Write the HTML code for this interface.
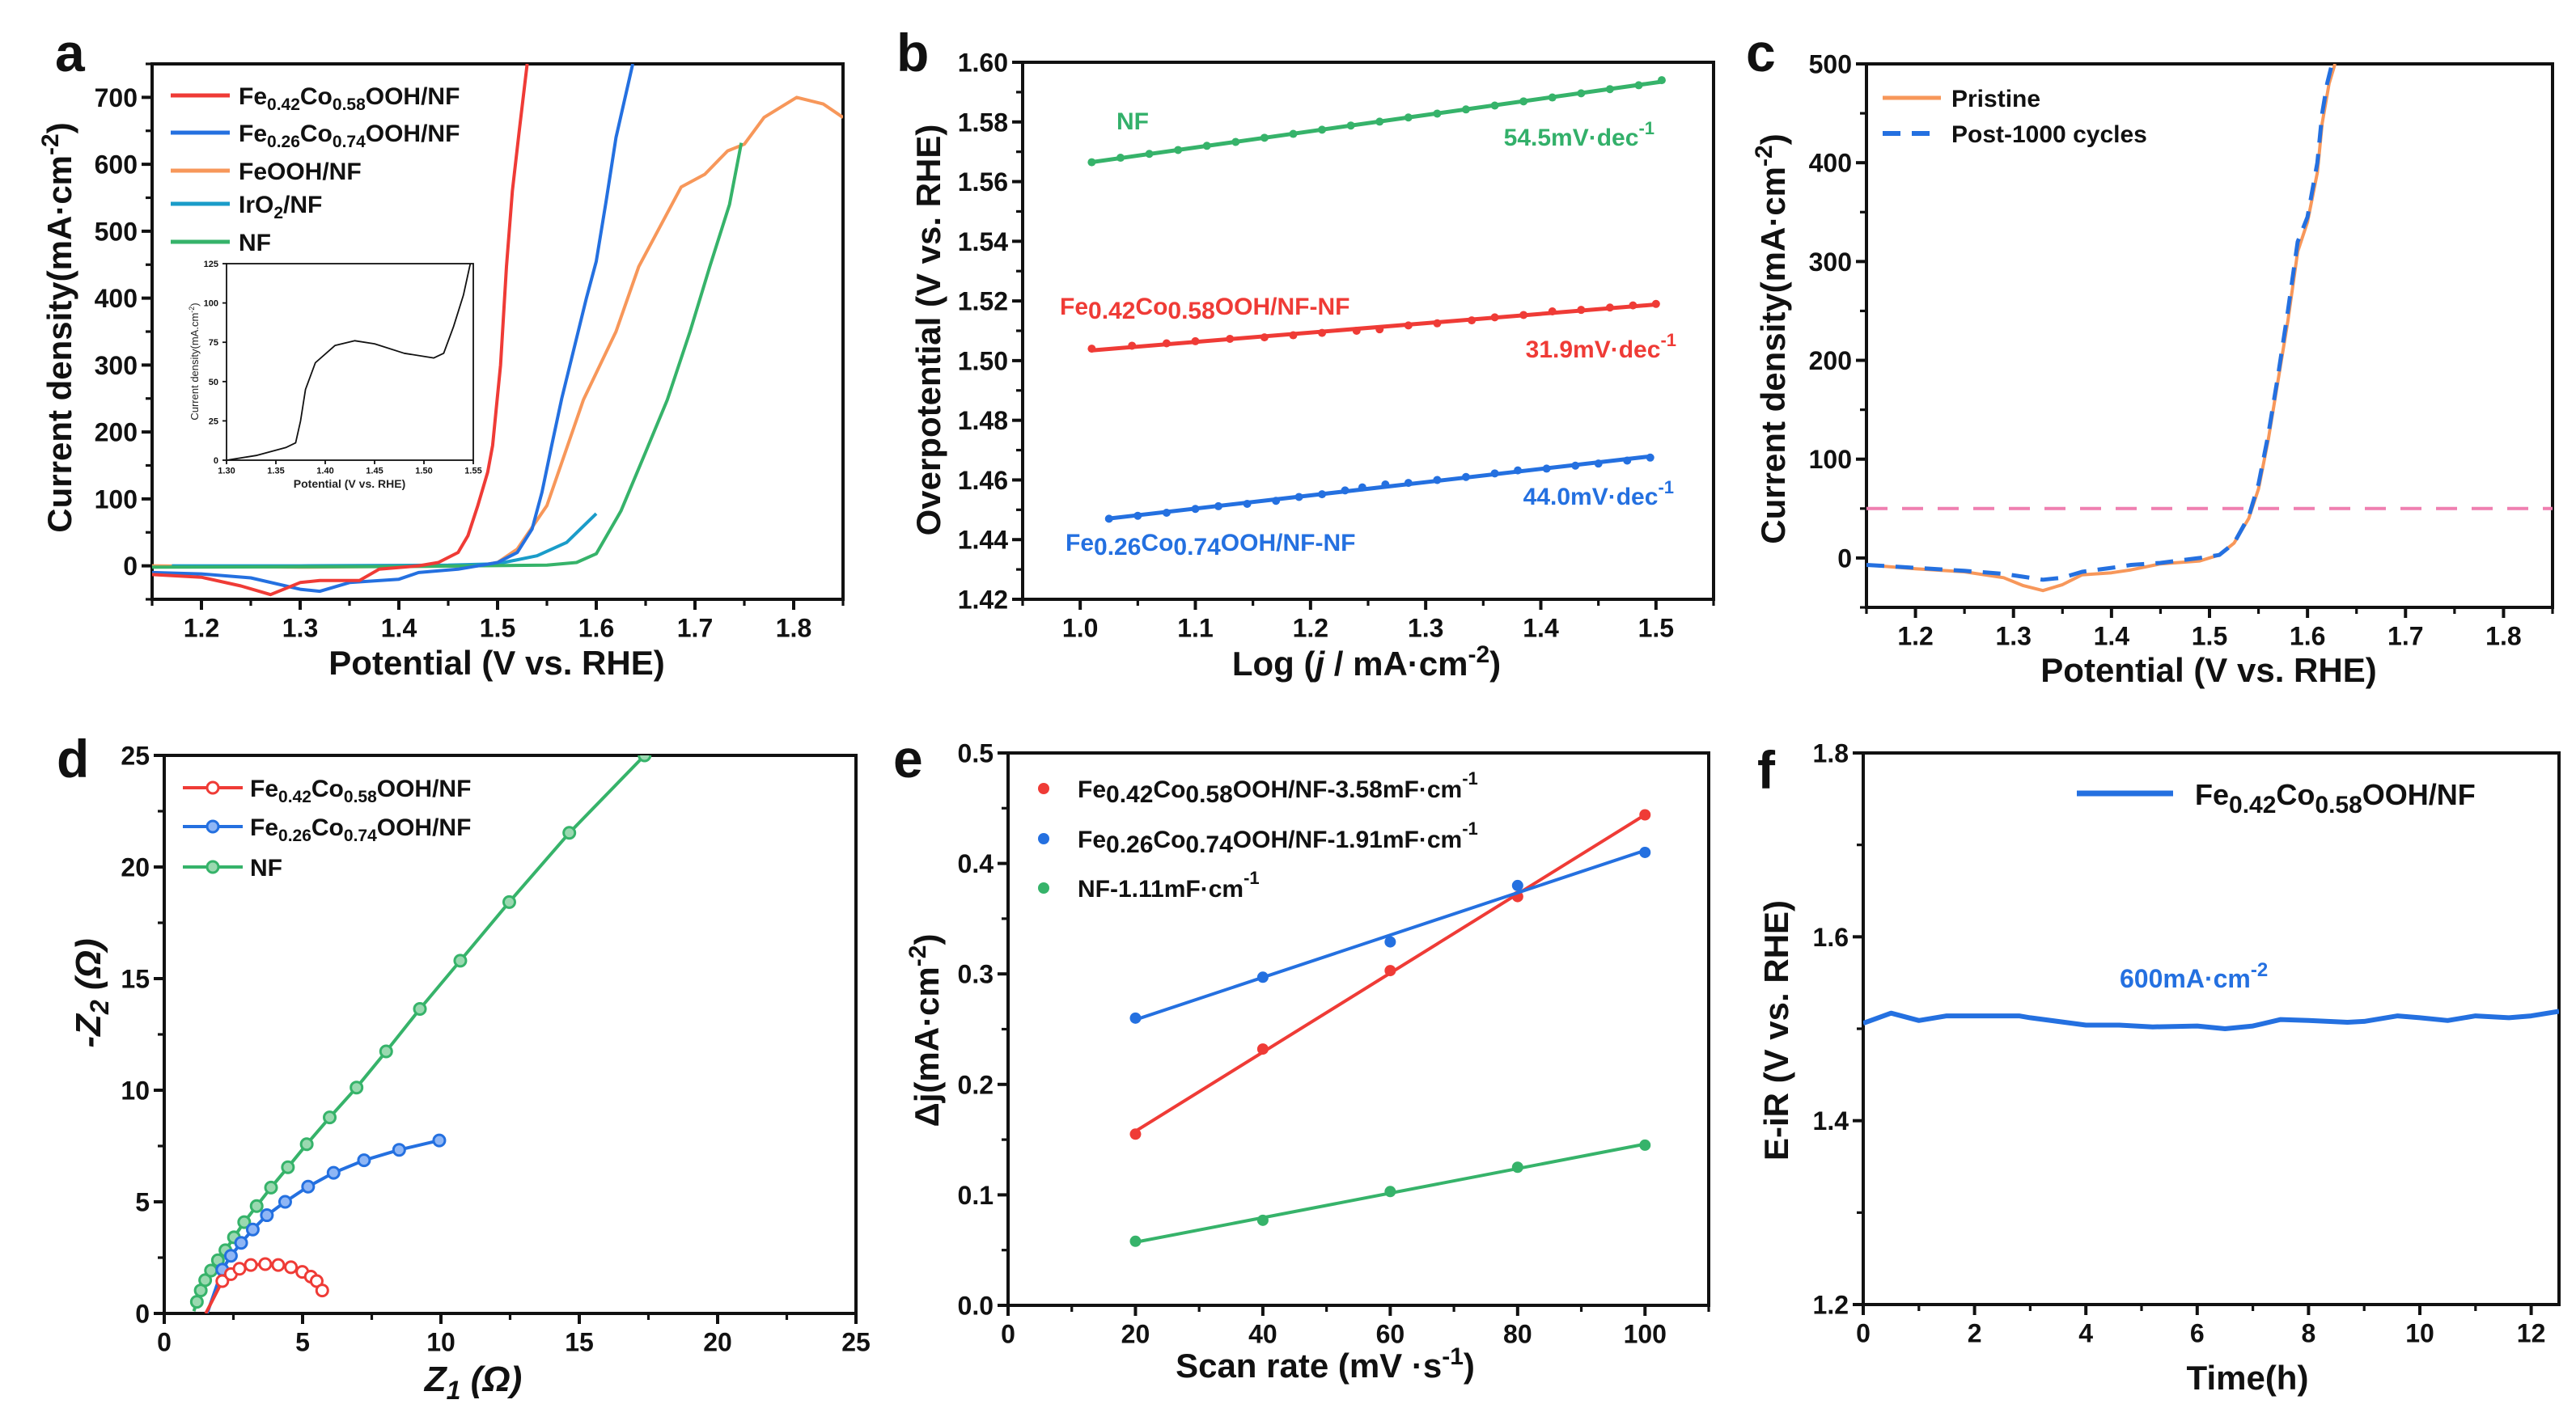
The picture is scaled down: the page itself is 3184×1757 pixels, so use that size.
<!DOCTYPE html>
<html><head><meta charset="utf-8">
<style>
html,body{margin:0;padding:0;background:#fff;}
svg{display:block;font-family:"Liberation Sans",Arial,sans-serif;}
.t{font-weight:bold;fill:#111;}
</style></head>
<body>
<svg id="fig" width="3184" height="1757" viewBox="0 0 3184 1757" xmlns="http://www.w3.org/2000/svg">
<defs>
<clipPath id="clipA"><rect x="188" y="79" width="854" height="662"/></clipPath>
<clipPath id="clipB"><rect x="1264" y="77" width="854" height="664"/></clipPath>
<clipPath id="clipC"><rect x="2307" y="79" width="848" height="672"/></clipPath>
<clipPath id="clipD"><rect x="203" y="934" width="855" height="690"/></clipPath>
<clipPath id="clipE"><rect x="1246" y="931" width="866" height="683"/></clipPath>
<clipPath id="clipF"><rect x="2303" y="931" width="860" height="682"/></clipPath>
<clipPath id="clipI"><rect x="280" y="326" width="305" height="243"/></clipPath>
</defs>
<rect width="3184" height="1757" fill="#fff"/>

<text class="t" x="68" y="88" font-size="66">a</text>
<text class="t" x="1108" y="88" font-size="66">b</text>
<text class="t" x="2158" y="88" font-size="66">c</text>
<text class="t" x="70" y="961" font-size="66">d</text>
<text class="t" x="1104" y="961" font-size="66">e</text>
<text class="t" x="2172" y="975" font-size="66">f</text>

<text class="t" x="614" y="834" font-size="42" text-anchor="middle">Potential (V vs. RHE)</text>
<text class="t" transform="translate(88,405) rotate(-90)" font-size="42" text-anchor="middle">Current density(mA·cm<tspan dy="-16" font-size="30">-2</tspan><tspan dy="16">)</tspan></text>
<text class="t" x="1689" y="835" font-size="42" text-anchor="middle">Log (<tspan font-style="italic">j</tspan> / mA·cm<tspan dy="-16" font-size="30">-2</tspan><tspan dy="16">)</tspan></text>
<text class="t" transform="translate(1162,408) rotate(-90)" font-size="42" text-anchor="middle">Overpotential (V vs. RHE)</text>
<text class="t" x="2730" y="843" font-size="42" text-anchor="middle">Potential (V vs. RHE)</text>
<text class="t" transform="translate(2206,419) rotate(-90)" font-size="42" text-anchor="middle">Current density(mA·cm<tspan dy="-16" font-size="30">-2</tspan><tspan dy="16">)</tspan></text>
<text class="t" x="585" y="1720" font-size="44" text-anchor="middle" font-style="italic">Z<tspan dy="10" font-size="32">1</tspan><tspan dy="-10"> (Ω)</tspan></text>
<text class="t" transform="translate(124,1228) rotate(-90)" font-size="44" text-anchor="middle" font-style="italic">-Z<tspan dy="10" font-size="32">2</tspan><tspan dy="-10"> (Ω)</tspan></text>
<text class="t" x="1638" y="1703" font-size="42" text-anchor="middle">Scan rate (mV ·s<tspan dy="-16" font-size="30">-1</tspan><tspan dy="16">)</tspan></text>
<text class="t" transform="translate(1160,1274) rotate(-90)" font-size="42" text-anchor="middle">Δj(mA·cm<tspan dy="-16" font-size="30">-2</tspan><tspan dy="16">)</tspan></text>
<text class="t" x="2778" y="1718" font-size="42" text-anchor="middle">Time(h)</text>
<text class="t" transform="translate(2210,1274) rotate(-90)" font-size="42" text-anchor="middle">E-iR (V vs. RHE)</text>

<g font-size="30" class="t">
<line x1="211" y1="118" x2="284" y2="118" stroke="#ef3b36" stroke-width="5"/>
<text class="t" x="295" y="129">Fe<tspan dy="7" font-size="21">0.42</tspan><tspan dy="-7">Co</tspan><tspan dy="7" font-size="21">0.58</tspan><tspan dy="-7">OOH/NF</tspan></text>
<line x1="211" y1="164" x2="284" y2="164" stroke="#2470e0" stroke-width="5"/>
<text class="t" x="295" y="175">Fe<tspan dy="7" font-size="21">0.26</tspan><tspan dy="-7">Co</tspan><tspan dy="7" font-size="21">0.74</tspan><tspan dy="-7">OOH/NF</tspan></text>
<line x1="211" y1="211" x2="284" y2="211" stroke="#f7975a" stroke-width="5"/>
<text class="t" x="295" y="222">FeOOH/NF</text>
<line x1="211" y1="252" x2="284" y2="252" stroke="#1a9cc9" stroke-width="5"/>
<text class="t" x="295" y="263">IrO<tspan dy="7" font-size="21">2</tspan><tspan dy="-7">/NF</tspan></text>
<line x1="211" y1="299" x2="284" y2="299" stroke="#36b36a" stroke-width="5"/>
<text class="t" x="295" y="310">NF</text>
</g>
<g>
<line x1="288" y1="342" x2="312" y2="342" stroke="#111" stroke-width="1.5"/>
<text x="318" y="346" font-size="11" fill="#222">Fe<tspan dy="3" font-size="8">0.42</tspan><tspan dy="-3">Co</tspan><tspan dy="3" font-size="8">0.58</tspan><tspan dy="-3">OOH/NF</tspan></text>
</g>
<text x="432" y="603" font-size="14" font-weight="bold" fill="#222" text-anchor="middle">Potential (V vs. RHE)</text>
<text transform="translate(245,447) rotate(-90)" font-size="13" fill="#222" text-anchor="middle">Current density(mA.cm<tspan dy="-5" font-size="9">-2</tspan><tspan dy="5">)</tspan></text>

<g font-size="30" font-weight="bold">
<text x="1380" y="160" fill="#33b06a">NF</text>
<text x="2045" y="180" fill="#33b06a" text-anchor="end">54.5mV·dec<tspan dy="-14" font-size="22">-1</tspan></text>
<text x="1310" y="389" fill="#ef3b36">Fe<tspan dy="5">0.42</tspan><tspan dy="-5">Co</tspan><tspan dy="5">0.58</tspan><tspan dy="-5">OOH/NF-NF</tspan></text>
<text x="2072" y="442" fill="#ef3b36" text-anchor="end">31.9mV·dec<tspan dy="-14" font-size="22">-1</tspan></text>
<text x="2069" y="624" fill="#2470e0" text-anchor="end">44.0mV·dec<tspan dy="-14" font-size="22">-1</tspan></text>
<text x="1317" y="681" fill="#2470e0">Fe<tspan dy="5">0.26</tspan><tspan dy="-5">Co</tspan><tspan dy="5">0.74</tspan><tspan dy="-5">OOH/NF-NF</tspan></text>
</g>

<g>
<line x1="2327" y1="121" x2="2399" y2="121" stroke="#f7975a" stroke-width="5"/>
<text class="t" x="2412" y="132" font-size="30">Pristine</text>
<line x1="2327" y1="165" x2="2399" y2="165" stroke="#2470e0" stroke-width="6" stroke-dasharray="22 14"/>
<text class="t" x="2412" y="176" font-size="30">Post-1000 cycles</text>
</g>

<g font-size="30">
<line x1="226" y1="974" x2="300" y2="974" stroke="#ef3b36" stroke-width="4"/>
<circle cx="263" cy="974" r="7" fill="#fff" stroke="#ef3b36" stroke-width="3"/>
<text class="t" x="309" y="985">Fe<tspan dy="7" font-size="21">0.42</tspan><tspan dy="-7">Co</tspan><tspan dy="7" font-size="21">0.58</tspan><tspan dy="-7">OOH/NF</tspan></text>
<line x1="226" y1="1022" x2="300" y2="1022" stroke="#2470e0" stroke-width="4"/>
<circle cx="263" cy="1022" r="7" fill="#8fb6f5" stroke="#2470e0" stroke-width="3"/>
<text class="t" x="309" y="1033">Fe<tspan dy="7" font-size="21">0.26</tspan><tspan dy="-7">Co</tspan><tspan dy="7" font-size="21">0.74</tspan><tspan dy="-7">OOH/NF</tspan></text>
<line x1="226" y1="1072" x2="300" y2="1072" stroke="#36b36a" stroke-width="4"/>
<circle cx="263" cy="1072" r="7" fill="#9ad9b0" stroke="#36b36a" stroke-width="3"/>
<text class="t" x="309" y="1083">NF</text>
</g>

<g font-size="30">
<circle cx="1290" cy="975" r="7" fill="#ef3b36"/>
<text class="t" x="1332" y="986">Fe<tspan dy="6">0.42</tspan><tspan dy="-6">Co</tspan><tspan dy="6">0.58</tspan><tspan dy="-6">OOH/NF-3.58mF·cm</tspan><tspan dy="-16" font-size="22">-1</tspan></text>
<circle cx="1290" cy="1037" r="7" fill="#2470e0"/>
<text class="t" x="1332" y="1048">Fe<tspan dy="6">0.26</tspan><tspan dy="-6">Co</tspan><tspan dy="6">0.74</tspan><tspan dy="-6">OOH/NF-1.91mF·cm</tspan><tspan dy="-16" font-size="22">-1</tspan></text>
<circle cx="1290" cy="1098" r="7" fill="#36b36a"/>
<text class="t" x="1332" y="1109">NF-1.11mF·cm<tspan dy="-16" font-size="22">-1</tspan></text>
</g>

<g>
<line x1="2567" y1="981" x2="2686" y2="981" stroke="#2470e0" stroke-width="7"/>
<text class="t" x="2713" y="995" font-size="36">Fe<tspan dy="10" font-size="30">0.42</tspan><tspan dy="-10">Co</tspan><tspan dy="10" font-size="30">0.58</tspan><tspan dy="-10">OOH/NF</tspan></text>
</g>
<text x="2620" y="1221" font-size="32" font-weight="bold" fill="#2470e0">600mA·cm<tspan dy="-14" font-size="24">-2</tspan></text>
</svg>

<script>
// ---------- DATA ----------
const aRedX = [1.15,1.2,1.24,1.27,1.3,1.32,1.36,1.38,1.42,1.44,1.46,1.47,1.48,1.49,1.495,1.503,1.509,1.515,1.522,1.53];
const aRedY = [-13,-17,-30,-43,-25,-22,-22,-5,0,5,20,45,90,140,180,300,447,560,650,750];
const aBlueX = [1.15,1.2,1.25,1.3,1.32,1.35,1.4,1.42,1.46,1.5,1.52,1.535,1.545,1.555,1.565,1.58,1.59,1.6,1.61,1.62,1.637];
const aBlueY = [-10,-12,-18,-35,-38,-25,-20,-10,-5,5,20,55,110,181,250,340,400,455,545,640,750];
const aOrangeX = [1.15,1.3,1.48,1.5,1.52,1.55,1.587,1.62,1.643,1.686,1.71,1.733,1.75,1.77,1.803,1.83,1.85];
const aOrangeY = [0,-2,0,5,25,90,248,350,447,566,585,620,630,670,700,690,670];
const aTealX = [1.17,1.3,1.45,1.5,1.54,1.57,1.6];
const aTealY = [0,0,1,3,15,35,78];
const aGreenX = [1.15,1.4,1.55,1.58,1.6,1.625,1.65,1.672,1.695,1.715,1.735,1.747];
const aGreenY = [-2,-1,1,5,18,82,170,248,350,447,540,632];
const insetX = [1.30,1.33,1.36,1.37,1.375,1.38,1.39,1.41,1.43,1.45,1.48,1.51,1.52,1.53,1.54,1.547];
const insetY = [0,3,8,11,25,45,62,73,76,74,68,65,68,85,105,125];
const bLogJ = [1.01,1.035,1.06,1.085,1.11,1.135,1.16,1.185,1.21,1.235,1.26,1.285,1.31,1.335,1.36,1.385,1.41,1.435,1.46,1.485,1.505];
const bNF = [1.5665,1.568,1.5693,1.5706,1.572,1.5733,1.5747,1.576,1.5774,1.5788,1.5801,1.5815,1.5828,1.5842,1.5855,1.5869,1.5882,1.5896,1.591,1.5923,1.594];
const bLogJRed = [1.01,1.045,1.075,1.1,1.13,1.16,1.185,1.21,1.24,1.26,1.285,1.31,1.34,1.36,1.385,1.41,1.435,1.46,1.48,1.5];
const bRed = [1.504,1.505,1.5058,1.5065,1.5073,1.5078,1.5085,1.5093,1.51,1.5105,1.5118,1.5125,1.5135,1.5145,1.5153,1.5165,1.517,1.5178,1.5185,1.519];
const bLogJBlue = [1.025,1.05,1.075,1.1,1.12,1.145,1.17,1.19,1.21,1.23,1.245,1.265,1.285,1.31,1.335,1.36,1.38,1.405,1.43,1.45,1.475,1.495];
const bBlue = [1.447,1.448,1.449,1.4503,1.4512,1.452,1.453,1.4543,1.4552,1.4565,1.4575,1.4585,1.459,1.46,1.461,1.4622,1.4632,1.4638,1.4648,1.4655,1.4665,1.4675];
const cPrisX = [1.15,1.2,1.25,1.29,1.31,1.33,1.35,1.37,1.4,1.42,1.45,1.49,1.51,1.525,1.54,1.55,1.56,1.57,1.58,1.59,1.6,1.61,1.615,1.622,1.628];
const cPrisY = [-7,-11,-14,-20,-28,-33,-27,-17,-15,-12,-6,-3,3,15,40,70,120,180,240,310,340,390,440,480,500];
const cPostX = [1.15,1.2,1.25,1.29,1.31,1.33,1.35,1.37,1.4,1.42,1.45,1.49,1.51,1.525,1.54,1.55,1.56,1.57,1.58,1.59,1.6,1.61,1.615,1.62,1.625];
const cPostY = [-7,-10,-13,-16,-19,-22,-20,-14,-10,-7,-5,0,3,15,42,75,125,185,250,320,345,400,450,480,500];
const cRef = [50];
const dRedX = [1.5,2.1,2.41,2.72,3.13,3.65,4.12,4.58,4.99,5.3,5.51,5.71];
const dRedY = [0,1.45,1.76,2.0,2.17,2.21,2.17,2.07,1.86,1.65,1.45,1.03];
const dBlueX = [1.55,2.1,2.41,2.78,3.2,3.71,4.37,5.2,6.12,7.22,8.49,9.94];
const dBlueY = [0,1.96,2.58,3.16,3.76,4.4,5.0,5.68,6.3,6.86,7.33,7.75];
const dGreenX = [1.07,1.18,1.32,1.48,1.69,1.94,2.21,2.52,2.89,3.34,3.86,4.47,5.15,5.98,6.95,8.02,9.24,10.7,12.47,14.64,17.36,18.5];
const dGreenY = [0.1,0.52,1.03,1.49,1.92,2.38,2.83,3.41,4.09,4.81,5.64,6.55,7.58,8.78,10.12,11.74,13.64,15.8,18.43,21.53,25.0,26.5];
const eRate = [20,40,60,80,100];
const eRed = [0.155,0.232,0.303,0.37,0.444];
const eBlue = [0.26,0.297,0.329,0.38,0.41];
const eGreen = [0.058,0.077,0.103,0.125,0.145];
const fTime = [0,0.5,1,1.5,2.8,3,4,4.6,5.2,6,6.5,7,7.5,8,8.7,9,9.6,10,10.5,11,11.6,12,12.5];
const fE = [1.506,1.517,1.509,1.514,1.514,1.512,1.504,1.504,1.502,1.503,1.5,1.503,1.51,1.509,1.507,1.508,1.514,1.512,1.509,1.514,1.512,1.514,1.519];

// ---------- HELPERS ----------
const NS = "http://www.w3.org/2000/svg";
const fig = document.getElementById('fig');
function mk(tag, attrs, parent){
  const e = document.createElementNS(NS, tag);
  for (const k in attrs) e.setAttribute(k, attrs[k]);
  (parent||fig).appendChild(e);
  return e;
}
function axes(c){
  const sx = v => c.x0 + (v - c.xmin) / (c.xmax - c.xmin) * (c.x1 - c.x0);
  const sy = v => c.y1 - (v - c.ymin) / (c.ymax - c.ymin) * (c.y1 - c.y0);
  const g = mk('g', {});
  
  
  const sw = c.sw || 4, ml = c.ml || 13, nl = c.nl || 8, fs = c.fs || 32;
  c.xminor.forEach(v => {
    const t = mk('line', {x1:sx(v), x2:sx(v), y1:c.y1, y2:c.y1+nl, stroke:'#111','stroke-width':sw*0.8}, g);
    
    
  });
  c.yminor.forEach(v => {
    const t = mk('line', {x1:c.x0-nl, x2:c.x0, y1:sy(v), y2:sy(v), stroke:'#111','stroke-width':sw*0.8}, g);
    
    
  });
  c.xticks.forEach((v,i) => {
    const t = mk('line', {x1:sx(v), x2:sx(v), y1:c.y1, y2:c.y1+ml, stroke:'#111','stroke-width':sw}, g);
    
    
    const l = mk('text', {x:sx(v), y:c.y1+ml+fs*1.05, 'font-size':fs, 'font-weight':'bold', fill:'#111', 'text-anchor':'middle'}, g);
    
    
    l.textContent = c.xlabels[i];
  });
  c.yticks.forEach((v,i) => {
    const t = mk('line', {x1:c.x0-ml, x2:c.x0, y1:sy(v), y2:sy(v), stroke:'#111','stroke-width':sw}, g);
    
    
    const l = mk('text', {x:c.x0-ml-5, y:sy(v)+fs*0.36, 'font-size':fs, 'font-weight':'bold', fill:'#111', 'text-anchor':'end'}, g);
    
    
    l.textContent = c.ylabels[i];
  });
  const f = mk('rect', {x:c.x0, y:c.y0, width:c.x1-c.x0, height:c.y1-c.y0, fill:'none', stroke:'#111', 'stroke-width':sw}, g);
  
  
  return {sx, sy};
}
function range(a,b,s){const r=[];for(let v=a;v<=b+1e-9;v+=s)r.push(+v.toFixed(6));return r;}
function line(ax, xs, ys, attrs, clip, name){
  const d = xs.map((x,i)=>(i?'L':'M')+ax.sx(x).toFixed(1)+','+ax.sy(ys[i]).toFixed(1)).join('');
  const p = mk('path', Object.assign({d:d, fill:'none', 'stroke-linejoin':'round', 'clip-path':'url(#'+clip+')'}, attrs));
  
  
  return p;
}
function dots(ax, xs, ys, r, fill, stroke, clip, name){
  xs.forEach((x,i)=>{
    const c = mk('circle', {cx:ax.sx(x), cy:ax.sy(ys[i]), r:r, fill:fill, stroke:stroke, 'stroke-width':stroke==='none'?0:3, 'clip-path':'url(#'+clip+')'});
    
    
  });
}
function fit(xs, ys){
  const n=xs.length, mx=xs.reduce((a,b)=>a+b)/n, my=ys.reduce((a,b)=>a+b)/n;
  let sxy=0,sxx=0; xs.forEach((x,i)=>{sxy+=(x-mx)*(ys[i]-my);sxx+=(x-mx)*(x-mx);});
  const m=sxy/sxx; return [m, my-m*mx];
}
const RED='#ef3b36', BLUE='#2470e0', ORANGE='#f7975a', TEAL='#1a9cc9', GREEN='#36b36a';

// ---------- PANEL A ----------
const axA = axes({name:'a', x0:188,x1:1042,y0:79,y1:741, xmin:1.15,xmax:1.85,ymin:-50,ymax:750,
  xticks:range(1.2,1.8,0.1), xlabels:['1.2','1.3','1.4','1.5','1.6','1.7','1.8'], xminor:range(1.15,1.85,0.05),
  yticks:range(0,700,100), ylabels:['0','100','200','300','400','500','600','700'], yminor:range(-50,750,50)});
line(axA, aOrangeX, aOrangeY, {stroke:ORANGE,'stroke-width':4}, 'clipA', 'a-feooh-curve');
line(axA, aTealX, aTealY, {stroke:TEAL,'stroke-width':4}, 'clipA', 'a-iro2-curve');
line(axA, aGreenX, aGreenY, {stroke:GREEN,'stroke-width':4}, 'clipA', 'a-nf-curve');
line(axA, aBlueX, aBlueY, {stroke:BLUE,'stroke-width':4}, 'clipA', 'a-fe026-curve');
line(axA, aRedX, aRedY, {stroke:RED,'stroke-width':4}, 'clipA', 'a-fe042-curve');
const bg = mk('rect',{x:280,y:326,width:305,height:243,fill:'#fff'});


const axI = axes({name:'inset', x0:280,x1:585,y0:326,y1:569, xmin:1.30,xmax:1.55,ymin:0,ymax:125, sw:1.8, ml:5, nl:3, fs:11,
  xticks:range(1.30,1.55,0.05), xlabels:['1.30','1.35','1.40','1.45','1.50','1.55'], xminor:[],
  yticks:range(0,125,25), ylabels:['0','25','50','75','100','125'], yminor:[]});
line(axI, insetX, insetY, {stroke:'#111','stroke-width':1.8}, 'clipI', 'inset-curve');

// ---------- PANEL B ----------
const axB = axes({name:'b', x0:1264,x1:2118,y0:77,y1:741, xmin:0.95,xmax:1.55,ymin:1.42,ymax:1.60,
  xticks:range(1.0,1.5,0.1), xlabels:['1.0','1.1','1.2','1.3','1.4','1.5'], xminor:range(0.95,1.55,0.05),
  yticks:range(1.42,1.60,0.02), ylabels:['1.42','1.44','1.46','1.48','1.50','1.52','1.54','1.56','1.58','1.60'], yminor:range(1.42,1.60,0.01)});
[[bLogJ,bNF,GREEN,'b-nf'],[bLogJRed,bRed,RED,'b-fe042'],[bLogJBlue,bBlue,BLUE,'b-fe026']].forEach(s=>{
  const [m,b0] = fit(s[0],s[1]);
  const x0=s[0][0], x1=s[0][s[0].length-1];
  line(axB, [x0,x1], [m*x0+b0, m*x1+b0], {stroke:s[2],'stroke-width':5}, 'clipB', s[3]+'-fit-line');
  dots(axB, s[0], s[1], 5, s[2], 'none', 'clipB', s[3]+'-point');
});

// ---------- PANEL C ----------
const axC = axes({name:'c', x0:2307,x1:3155,y0:79,y1:751, xmin:1.15,xmax:1.85,ymin:-50,ymax:500,
  xticks:range(1.2,1.8,0.1), xlabels:['1.2','1.3','1.4','1.5','1.6','1.7','1.8'], xminor:range(1.15,1.85,0.05),
  yticks:range(0,500,100), ylabels:['0','100','200','300','400','500'], yminor:range(-50,500,50)});
line(axC, [1.15,1.85], [cRef[0],cRef[0]], {stroke:'#ef7fb0','stroke-width':4,'stroke-dasharray':'26 18'}, 'clipC', 'c-reference-line');
line(axC, cPrisX, cPrisY, {stroke:ORANGE,'stroke-width':4}, 'clipC', 'c-pristine-curve');
line(axC, cPostX, cPostY, {stroke:BLUE,'stroke-width':5,'stroke-dasharray':'22 14'}, 'clipC', 'c-post-cycles-curve');

// ---------- PANEL D ----------
const axD = axes({name:'d', x0:203,x1:1058,y0:934,y1:1624, xmin:0,xmax:25,ymin:0,ymax:25,
  xticks:range(0,25,5), xlabels:['0','5','10','15','20','25'], xminor:range(0,25,2.5),
  yticks:range(0,25,5), ylabels:['0','5','10','15','20','25'], yminor:range(0,25,2.5)});
line(axD, dGreenX, dGreenY, {stroke:GREEN,'stroke-width':4}, 'clipD', 'd-nf-curve');
dots(axD, dGreenX.slice(1,-1), dGreenY.slice(1,-1), 7, '#9ad9b0', GREEN, 'clipD', 'd-nf-point');
line(axD, dBlueX, dBlueY, {stroke:BLUE,'stroke-width':4}, 'clipD', 'd-fe026-curve');
dots(axD, dBlueX.slice(1), dBlueY.slice(1), 7, '#8fb6f5', BLUE, 'clipD', 'd-fe026-point');
line(axD, dRedX, dRedY, {stroke:RED,'stroke-width':4}, 'clipD', 'd-fe042-curve');
dots(axD, dRedX.slice(1), dRedY.slice(1), 7, '#fff', RED, 'clipD', 'd-fe042-point');

// ---------- PANEL E ----------
const axE = axes({name:'e', x0:1246,x1:2112,y0:931,y1:1614, xmin:0,xmax:110,ymin:0,ymax:0.5,
  xticks:range(0,100,20), xlabels:['0','20','40','60','80','100'], xminor:range(0,110,10),
  yticks:range(0,0.5,0.1), ylabels:['0.0','0.1','0.2','0.3','0.4','0.5'], yminor:range(0,0.5,0.05)});
[[eRed,RED,'e-fe042'],[eBlue,BLUE,'e-fe026'],[eGreen,GREEN,'e-nf']].forEach(s=>{
  const [m,b0] = fit(eRate, s[0]);
  line(axE, [20,100], [m*20+b0, m*100+b0], {stroke:s[1],'stroke-width':4}, 'clipE', s[2]+'-fit-line');
  dots(axE, eRate, s[0], 7, s[1], 'none', 'clipE', s[2]+'-point');
});

// ---------- PANEL F ----------
const axF = axes({name:'f', x0:2303,x1:3163,y0:931,y1:1613, xmin:0,xmax:12.5,ymin:1.2,ymax:1.8,
  xticks:range(0,12,2), xlabels:['0','2','4','6','8','10','12'], xminor:range(0,12,1),
  yticks:range(1.2,1.8,0.2), ylabels:['1.2','1.4','1.6','1.8'], yminor:range(1.2,1.8,0.1)});
line(axF, fTime, fE, {stroke:BLUE,'stroke-width':6}, 'clipF', 'f-stability-curve');
</script>
</body></html>
